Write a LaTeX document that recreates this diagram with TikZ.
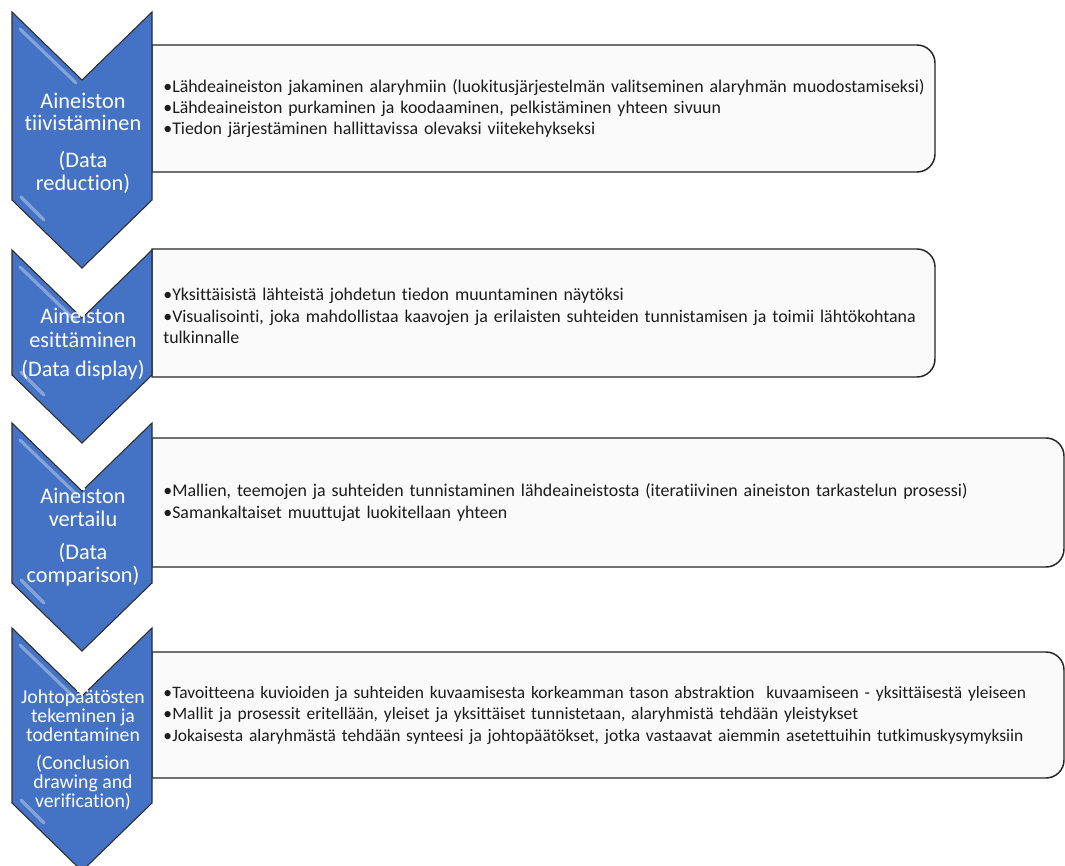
\documentclass[tikz,border=0pt]{standalone}
\usepackage{fontspec}
\setmainfont{Carlito}[Ligatures={NoCommon,NoContextual}]
\definecolor{chevblue}{RGB}{68,114,196}
\definecolor{chevline}{RGB}{45,45,45}
\definecolor{boxfill}{RGB}{250,250,250}
\definecolor{boxline}{RGB}{38,38,38}
\definecolor{txt}{RGB}{28,28,28}
\newlength\bulw
\setlength\bulw{6.75pt}
\newcommand\bitem[1]{\hangindent=\bulw\hangafter=1\noindent\makebox[\bulw][l]{•}#1\par}
\begin{document}
\begin{tikzpicture}[x=0.75pt,y=0.75pt,
  chevron/.style={fill=chevblue, draw=chevline, line width=0.8pt, line join=miter},
  hilite/.style={draw=white, draw opacity=0.35, line width=2.4pt, line cap=round},
  infobox/.style={fill=boxfill, draw=boxline, line width=1.1pt},
  infotext/.style={anchor=west, text width=700pt, align=left, inner sep=0pt,
    font=\fontsize{13.4}{16.1}\selectfont, text=txt},
  chevtext/.style={align=center, text=white, inner sep=0pt}]
\useasboundingbox (0,0) rectangle (1065,-865);
\clip (0,0) rectangle (1065,-865);
\fill[white] (0,0) rectangle (1065,-865);

% ---------- boxes ----------
\draw[infobox] (152,-45) -- (917,-45) arc (90:0:18) -- (935,-154) arc (0:-90:18) -- (152,-172) -- cycle;
\draw[infobox] (152,-249) -- (917,-249) arc (90:0:18) -- (935,-359) arc (0:-90:18) -- (152,-377) -- cycle;
\draw[infobox] (152,-438) -- (1046,-438) arc (90:0:18) -- (1064,-549) arc (0:-90:18) -- (152,-567) -- cycle;
\draw[infobox] (152,-652) -- (1046,-652) arc (90:0:18) -- (1064,-760) arc (0:-90:18) -- (152,-778) -- cycle;

\node[infotext] (t1) at (163,-108.5) {%
\bitem{Lähdeaineiston jakaminen alaryhmiin (luokitusjärjestelmän valitseminen alaryhmän muodostamiseksi)}
\bitem{Lähdeaineiston purkaminen ja koodaaminen, pelkistäminen yhteen sivuun}
\bitem{Tiedon järjestäminen hallittavissa olevaksi viitekehykseksi}};

\node[infotext] (t2) at (163,-316) {%
\bitem{Yksittäisistä lähteistä johdetun tiedon muuntaminen näytöksi}
\bitem{Visualisointi, joka mahdollistaa kaavojen ja erilaisten suhteiden tunnistamisen ja toimii lähtökohtana\\tulkinnalle}};

\node[infotext] (t3) at (163,-502.5) {%
\bitem{Mallien, teemojen ja suhteiden tunnistaminen lähdeaineistosta (iteratiivinen aineiston tarkastelun prosessi)}
\bitem{Samankaltaiset muuttujat luokitellaan yhteen}};

\node[infotext, font=\fontsize{13.1}{16.1}\selectfont] (t4) at (163,-715) {%
\bitem{Tavoitteena kuvioiden ja suhteiden kuvaamisesta korkeamman tason abstraktion\ \ kuvaamiseen - yksittäisestä yleiseen}
\bitem{Mallit ja prosessit eritellään, yleiset ja yksittäiset tunnistetaan, alaryhmistä tehdään yleistykset}
\bitem{Jokaisesta alaryhmästä tehdään synteesi ja johtopäätökset, jotka vastaavat aiemmin asetettuihin tutkimuskysymyksiin}};

% ---------- chevrons ----------
\draw[chevron] (12,-12) -- (82,-80) -- (152,-12) -- (152,-200) -- (82,-268) -- (12,-200) -- cycle;
\draw[hilite] (20,-29) -- (76,-83);
\draw[hilite] (21,-197) -- (44,-220);

\draw[chevron] (12,-250) -- (82,-318) -- (152,-250) -- (152,-375) -- (82,-443) -- (12,-375) -- cycle;
\draw[hilite] (20,-267) -- (76,-321);
\draw[hilite] (21,-372) -- (44,-395);

\draw[chevron] (12,-423) -- (82,-491) -- (152,-423) -- (152,-583) -- (82,-651) -- (12,-583) -- cycle;
\draw[hilite] (20,-440) -- (76,-494);
\draw[hilite] (21,-580) -- (44,-603);

\draw[chevron] (12,-628) -- (82,-696) -- (152,-628) -- (152,-803) -- (82,-871) -- (12,-803) -- cycle;
\draw[hilite] (20,-645) -- (76,-699);
\draw[hilite] (21,-800) -- (44,-823);

\node[chevtext, font=\fontsize{16.7}{16.8}\selectfont] (c1) at (83,-143)
  {Aineiston\\tiivistäminen\\[11pt](Data\\reduction)};
\node[chevtext, font=\fontsize{16.7}{18}\selectfont] (c2) at (83,-344)
  {Aineiston\\esittäminen\\[4pt](Data display)};
\node[chevtext, font=\fontsize{16.7}{17.3}\selectfont] (c3) at (83,-537)
  {Aineiston\\vertailu\\[7.5pt](Data\\comparison)};
\node[chevtext, font=\fontsize{14.8}{14.3}\selectfont] (c4) at (83,-750)
  {Johtopäätösten\\tekeminen ja\\todentaminen\\[6pt](Conclusion\\drawing and\\verification)};
\end{tikzpicture}
\end{document}
